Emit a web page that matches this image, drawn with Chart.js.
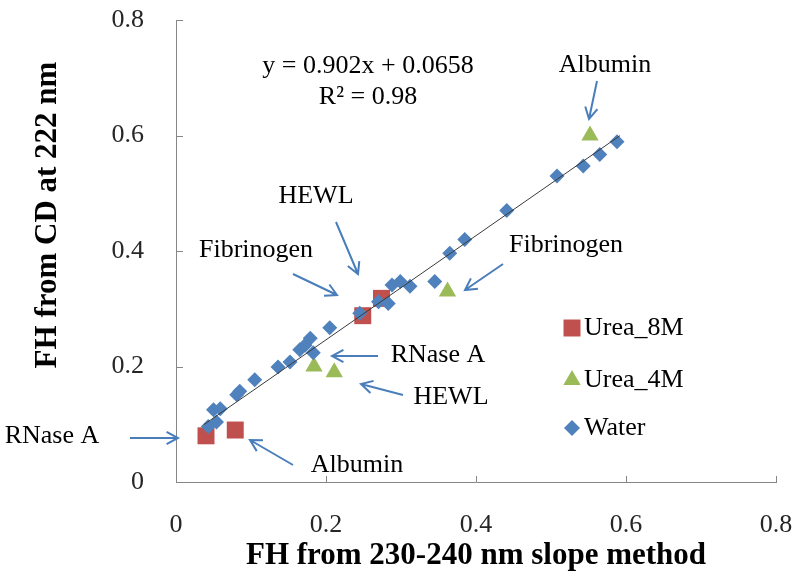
<!DOCTYPE html>
<html>
<head>
<meta charset="utf-8">
<script src="https://cdn.jsdelivr.net/npm/chart.js@4/dist/chart.umd.min.js"></script>
<style>
  html, body { margin: 0; padding: 0; background: #fff; }
  #wrap { width: 800px; height: 582px; position: relative; }
</style>
</head>
<body>
<div id="wrap"><canvas id="chart"></canvas></div>
<script>
// values
const urea8X = [0.040, 0.079, 0.249, 0.274];
const urea8Y = [0.080, 0.090, 0.288, 0.318];

const urea4X = [0.184, 0.211, 0.362, 0.552];
const urea4Y = [0.200, 0.190, 0.330, 0.600];

const waterX = [0.043, 0.054, 0.050, 0.059, 0.081, 0.085, 0.105, 0.136, 0.152, 0.165,
                0.172, 0.179, 0.183, 0.205, 0.245, 0.270, 0.283, 0.288, 0.299, 0.312,
                0.345, 0.365, 0.385, 0.441, 0.508, 0.543, 0.565, 0.588];
const waterY = [0.096, 0.104, 0.125, 0.127, 0.151, 0.157, 0.177, 0.199, 0.208, 0.229,
                0.237, 0.249, 0.224, 0.267, 0.292, 0.312, 0.309, 0.341, 0.347, 0.339,
                0.347, 0.396, 0.420, 0.470, 0.530, 0.547, 0.567, 0.589];

// linear fit shown on the chart
const slope = 0.902;
const intercept = 0.0658;
const trendX = [0.037, 0.592];

const tickValues = [0, 0.2, 0.4, 0.6, 0.8];

const seriesNames = ["Urea_8M", "Urea_4M", "Water"];
const seriesColors = ["#C0504D", "#9BBB59", "#4F81BD"];

const toPoints = (xs, ys) => xs.map((x, i) => ({ x: x, y: ys[i] }));

const SERIF = "'Liberation Serif', 'Times New Roman', serif";
const ARROW = "#4A7EBB";

// annotation texts with arrows (pixel positions on the canvas)
const notes = [
  { text: "Albumin",    x: 605, y: 65,  from: [597, 81],  to: [589, 119] },
  { text: "HEWL",       x: 316, y: 196, from: [336, 222], to: [358, 274] },
  { text: "Fibrinogen", x: 256, y: 250, from: [293, 274], to: [337, 295] },
  { text: "Fibrinogen", x: 566, y: 245, from: [503, 264], to: [465, 290] },
  { text: "RNase A",    x: 438, y: 355, from: [378, 356], to: [332, 356] },
  { text: "HEWL",       x: 451, y: 397, from: [403, 395], to: [361, 384] },
  { text: "RNase A",    x: 52,  y: 436, from: [130, 438], to: [178, 438] },
  { text: "Albumin",    x: 357, y: 465, from: [293, 465], to: [250, 440] }
];

function drawArrow(ctx, a, b) {
  const ang = Math.atan2(b[1] - a[1], b[0] - a[0]);
  const head = 13;
  ctx.beginPath();
  ctx.moveTo(a[0], a[1]);
  ctx.lineTo(b[0], b[1]);
  ctx.moveTo(b[0] - head * Math.cos(ang - 0.5), b[1] - head * Math.sin(ang - 0.5));
  ctx.lineTo(b[0], b[1]);
  ctx.lineTo(b[0] - head * Math.cos(ang + 0.5), b[1] - head * Math.sin(ang + 0.5));
  ctx.stroke();
}

const decorPlugin = {
  id: "decor",
  beforeDatasetsDraw(chart) {
    const { ctx, chartArea, scales } = chart;
    ctx.save();
    ctx.strokeStyle = "#868686";
    ctx.lineWidth = 1;
    // inner tick marks
    tickValues.forEach((v) => {
      const px = Math.round(scales.x.getPixelForValue(v)) + 0.5;
      ctx.beginPath();
      ctx.moveTo(px, chartArea.bottom);
      ctx.lineTo(px, chartArea.bottom - 6);
      ctx.stroke();
      const py = Math.round(scales.y.getPixelForValue(v)) + 0.5;
      ctx.beginPath();
      ctx.moveTo(chartArea.left, py);
      ctx.lineTo(chartArea.left + 7, py);
      ctx.stroke();
    });
    ctx.restore();
  },
  afterDraw(chart) {
    const { ctx, chartArea } = chart;
    ctx.save();
    ctx.fillStyle = "#000";
    ctx.textAlign = "center";
    ctx.textBaseline = "middle";

    // axis titles
    ctx.font = "bold 31px " + SERIF;
    ctx.fillText("FH from 230-240 nm slope method", (chartArea.left + chartArea.right) / 2, 556);
    ctx.save();
    ctx.translate(48, 215);
    ctx.rotate(-Math.PI / 2);
    ctx.fillText("FH from CD at 222 nm", 0, 0);
    ctx.restore();

    // regression text
    ctx.font = "26px " + SERIF;
    ctx.fillText("y = 0.902x + 0.0658", 368, 66);
    ctx.fillText("R\u00B2 = 0.98", 368, 97);

    // labels and arrows
    ctx.strokeStyle = ARROW;
    ctx.lineWidth = 2;
    notes.forEach((n) => {
      ctx.fillText(n.text, n.x, n.y);
      drawArrow(ctx, n.from, n.to);
    });

    // legend
    const legendY = [328, 380, 428];
    const styles = ["rect", "triangle", "rectRot"];
    const radii = [12, 10, 8];
    ctx.textAlign = "left";
    seriesNames.forEach((name, i) => {
      ctx.fillStyle = seriesColors[i];
      ctx.strokeStyle = seriesColors[i];
      ctx.lineWidth = 0;
      Chart.helpers.drawPoint(ctx, { pointStyle: styles[i], radius: radii[i], borderWidth: 0 }, 572, legendY[i]);
      ctx.fillStyle = "#000";
      ctx.fillText(name, 584, legendY[i]);
    });
    ctx.restore();
  }
};

new Chart(document.getElementById("chart"), {
  type: "scatter",
  data: {
    datasets: [
      {
        type: "line",
        label: "trend",
        data: trendX.map((x) => ({ x: x, y: slope * x + intercept })),
        borderColor: "#3a3a3a",
        borderWidth: 1,
        pointRadius: 0,
        fill: false,
        order: 0
      },
      {
        label: seriesNames[2],
        data: toPoints(waterX, waterY),
        pointStyle: "rectRot",
        pointRadius: 7.5,
        backgroundColor: seriesColors[2],
        borderWidth: 0,
        order: 1
      },
      {
        label: seriesNames[1],
        data: toPoints(urea4X, urea4Y),
        pointStyle: "triangle",
        pointRadius: 10,
        backgroundColor: seriesColors[1],
        borderWidth: 0,
        order: 2
      },
      {
        label: seriesNames[0],
        data: toPoints(urea8X, urea8Y),
        pointStyle: "rect",
        pointRadius: 12,
        backgroundColor: seriesColors[0],
        borderWidth: 0,
        order: 3
      }
    ]
  },
  options: {
    responsive: true,
    maintainAspectRatio: false,
    animation: false,
    layout: { padding: { top: 20, right: 24, left: 0, bottom: 0 } },
    plugins: {
      legend: { display: false },
      tooltip: { enabled: false }
    },
    scales: {
      x: {
        type: "linear",
        min: 0,
        max: 0.8,
        afterBuildTicks: (scale) => { scale.ticks = tickValues.map((v) => ({ value: v })); },
        afterFit: (scale) => {
          scale.height = 100;
          scale.paddingLeft = 0;
          scale.paddingRight = 0;
        },
        grid: { display: false },
        border: { display: true, color: "#868686", width: 1 },
        ticks: {
          padding: 20,
          color: "#262626",
          font: { family: SERIF, size: 26 },
          callback: (v) => String(v)
        }
      },
      y: {
        type: "linear",
        min: 0,
        max: 0.8,
        afterBuildTicks: (scale) => { scale.ticks = tickValues.map((v) => ({ value: v })); },
        afterFit: (scale) => {
          scale.width = 176;
          scale.paddingTop = 0;
          scale.paddingBottom = 0;
        },
        grid: { display: false },
        border: { display: true, color: "#868686", width: 1 },
        ticks: {
          padding: 24,
          color: "#262626",
          font: { family: SERIF, size: 26 },
          callback: (v) => String(v)
        }
      }
    }
  },
  plugins: [decorPlugin]
});
</script>
</body>
</html>
